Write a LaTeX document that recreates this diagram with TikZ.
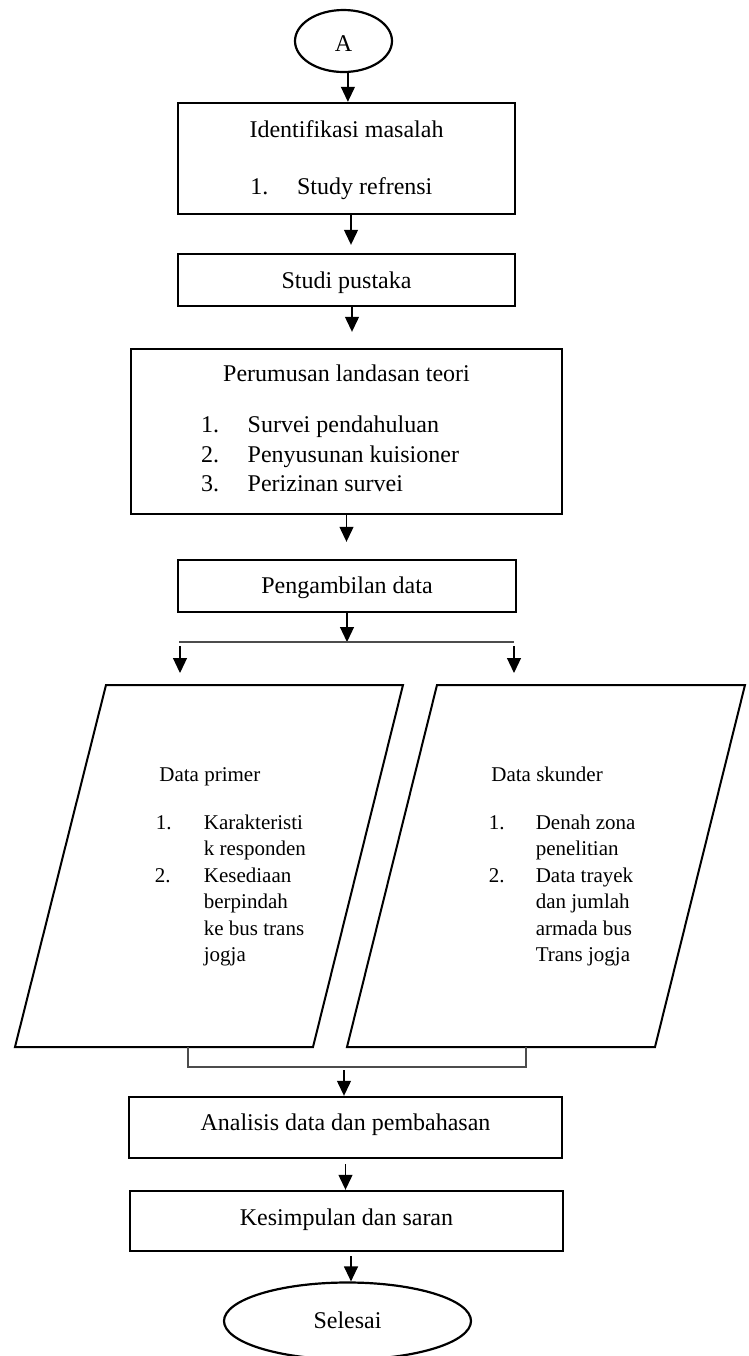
\documentclass[tikz,border=0pt]{standalone}
\usepackage{fontspec}
\setmainfont{Liberation Serif}
\usetikzlibrary{arrows.meta,shapes.geometric}
\begin{document}
\begin{tikzpicture}[x=0.5pt,y=-0.5pt,
  font=\fontsize{12pt}{14pt}\selectfont,
  box/.style={draw, line width=1.2pt, inner sep=0pt, rectangle},
  oval/.style={draw, ellipse, line width=1.1pt, inner sep=0pt},
  para/.style={draw, line width=1pt, line join=miter},
  arr/.style={line width=0.6pt, -{Triangle[length=7.5pt,width=7pt]}},
  thinline/.style={line width=0.55pt, draw=black!70},
  txt/.style={anchor=base, inner sep=0pt},
  txtw/.style={anchor=base west, inner sep=0pt},
  small/.style={font=\fontsize{10.5pt}{13pt}\selectfont},
]
\useasboundingbox (0,0) rectangle (749,1356);
\clip (0,0) rectangle (749,1356);

% --- start
\node[oval, minimum width=48.5pt, minimum height=31pt, text height=10.7pt, text depth=0pt] (A) at (343.5,41) {A};

% --- Identifikasi masalah
\node[box, minimum width=168.5pt, minimum height=55.5pt] (b1) at (346.5,158.5) {};
\node[txt] (b1t) at (346.5,137) {Identifikasi masalah};
\node[txtw] (b1n) at (250,194) {1.};
\node[txtw] (b1i) at (296.7,194) {Study refrensi};

% --- Studi pustaka
\node[box, minimum width=168.5pt, minimum height=26pt, text height=8pt, text depth=0pt] (sp) at (346.5,280) {Studi pustaka};

% --- Perumusan landasan teori
\node[box, minimum width=215.5pt, minimum height=82.5pt] (pl) at (346.5,431.5) {};
\node[txt] (plt) at (346.5,381) {Perumusan landasan teori};
\node[txtw] (pln1) at (200.7,432.7) {1.};
\node[txtw] (pli1) at (247.3,432.7) {Survei pendahuluan};
\node[txtw] (pln2) at (200.7,462.7) {2.};
\node[txtw] (pli2) at (247.3,462.7) {Penyusunan kuisioner};
\node[txtw] (pln3) at (200.7,491.7) {3.};
\node[txtw] (pli3) at (247.3,491.7) {Perizinan survei};

% --- Pengambilan data
\node[box, minimum width=169pt, minimum height=26pt, text height=7.3pt, text depth=0pt] (pd) at (347,586) {Pengambilan data};

% --- split
\coordinate (sl) at (179,642);
\coordinate (sr) at (514,642);
\coordinate (plTop) at (180,685);
\coordinate (prTop) at (514,685);

% --- parallelograms
\coordinate (L1) at (106,685);
\coordinate (L2) at (403,685);
\coordinate (L3) at (313,1047);
\coordinate (L4) at (15,1047);
\coordinate (R1) at (437,685);
\coordinate (R2) at (745,685);
\coordinate (R3) at (655,1047);
\coordinate (R4) at (347,1047);
\draw[para] (L1) -- (L2) -- (L3) -- (L4) -- cycle;
\draw[para] (R1) -- (R2) -- (R3) -- (R4) -- cycle;

\begin{scope}[small]
\node[txtw] (dpt) at (159,781.7) {Data primer};
\node[txtw] (dpn1) at (155.5,829.5) {1.};
\node[txtw] (dpi1a) at (203.5,829.5) {Karakteristi};
\node[txtw] (dpi1b) at (203.5,855.9) {k responden};
\node[txtw] (dpn2) at (154.5,882.3) {2.};
\node[txtw] (dpi2a) at (203.5,882.3) {Kesediaan};
\node[txtw] (dpi2b) at (203.5,908.7) {berpindah};
\node[txtw] (dpi2c) at (203.5,935.1) {ke bus trans};
\node[txtw] (dpi2d) at (203.5,961.5) {jogja};

\node[txtw] (dst) at (491,781.7) {Data skunder};
\node[txtw] (dsn1) at (488.5,829.5) {1.};
\node[txtw] (dsi1a) at (535.4,829.5) {Denah zona};
\node[txtw] (dsi1b) at (535.4,855.9) {penelitian};
\node[txtw] (dsn2) at (488.5,882.3) {2.};
\node[txtw] (dsi2a) at (535.4,882.3) {Data trayek};
\node[txtw] (dsi2b) at (535.4,908.7) {dan jumlah};
\node[txtw] (dsi2c) at (535.4,935.1) {armada bus};
\node[txtw] (dsi2d) at (535.4,961.5) {Trans jogja};
\end{scope}

% --- merge
\coordinate (Lb) at (188,1047);
\coordinate (Rb) at (526,1047);
\coordinate (mj) at (344,1067);

% --- Analisis
\node[box, minimum width=216.5pt, minimum height=30.5pt, text height=2.5pt, text depth=0pt] (an) at (345.5,1127.5) {Analisis data dan pembahasan};

% --- Kesimpulan
\node[box, minimum width=216.5pt, minimum height=30pt, text height=4pt, text depth=0pt] (ks) at (346.5,1221) {Kesimpulan dan saran};

% --- end
\node[oval, minimum width=123.5pt, minimum height=38.5pt, text height=7.3pt, text depth=0pt] (sel) at (347.5,1321) {Selesai};

% --- connectors
\draw[arr] ([xshift=2.2pt]A.south) -- ([xshift=2.2pt]A.south |- b1.north);
\draw[arr, shorten >=4pt] ([xshift=2.25pt]b1.south) -- ([xshift=2.25pt]sp.north);
\draw[arr, shorten >=8pt] ([xshift=2.75pt]sp.south) -- ([xshift=2.75pt]pl.north);
\draw[arr, shorten >=8.5pt] (pl.south) -- (pl.south |- pd.north);
\draw[arr] (pd.south) -- (pd.south |- sl);
\draw[thinline] (sl) -- (sr);
\draw[arr, shorten <=2pt, shorten >=6pt] (sl -| plTop) -- (plTop);
\draw[arr, shorten <=2pt, shorten >=6pt] (sr) -- (prTop);
\draw[thinline] (Lb) |- (mj) -| (Rb);
\draw[arr, shorten <=1.5pt] (mj) -- (mj |- an.north);
\draw[arr, shorten <=2.5pt] (an.south) -- (an.south |- ks.north);
\draw[arr, shorten <=2pt] ([xshift=2.25pt]ks.south) -- ([xshift=2.25pt]ks.south |- sel.north);
\end{tikzpicture}
\end{document}
